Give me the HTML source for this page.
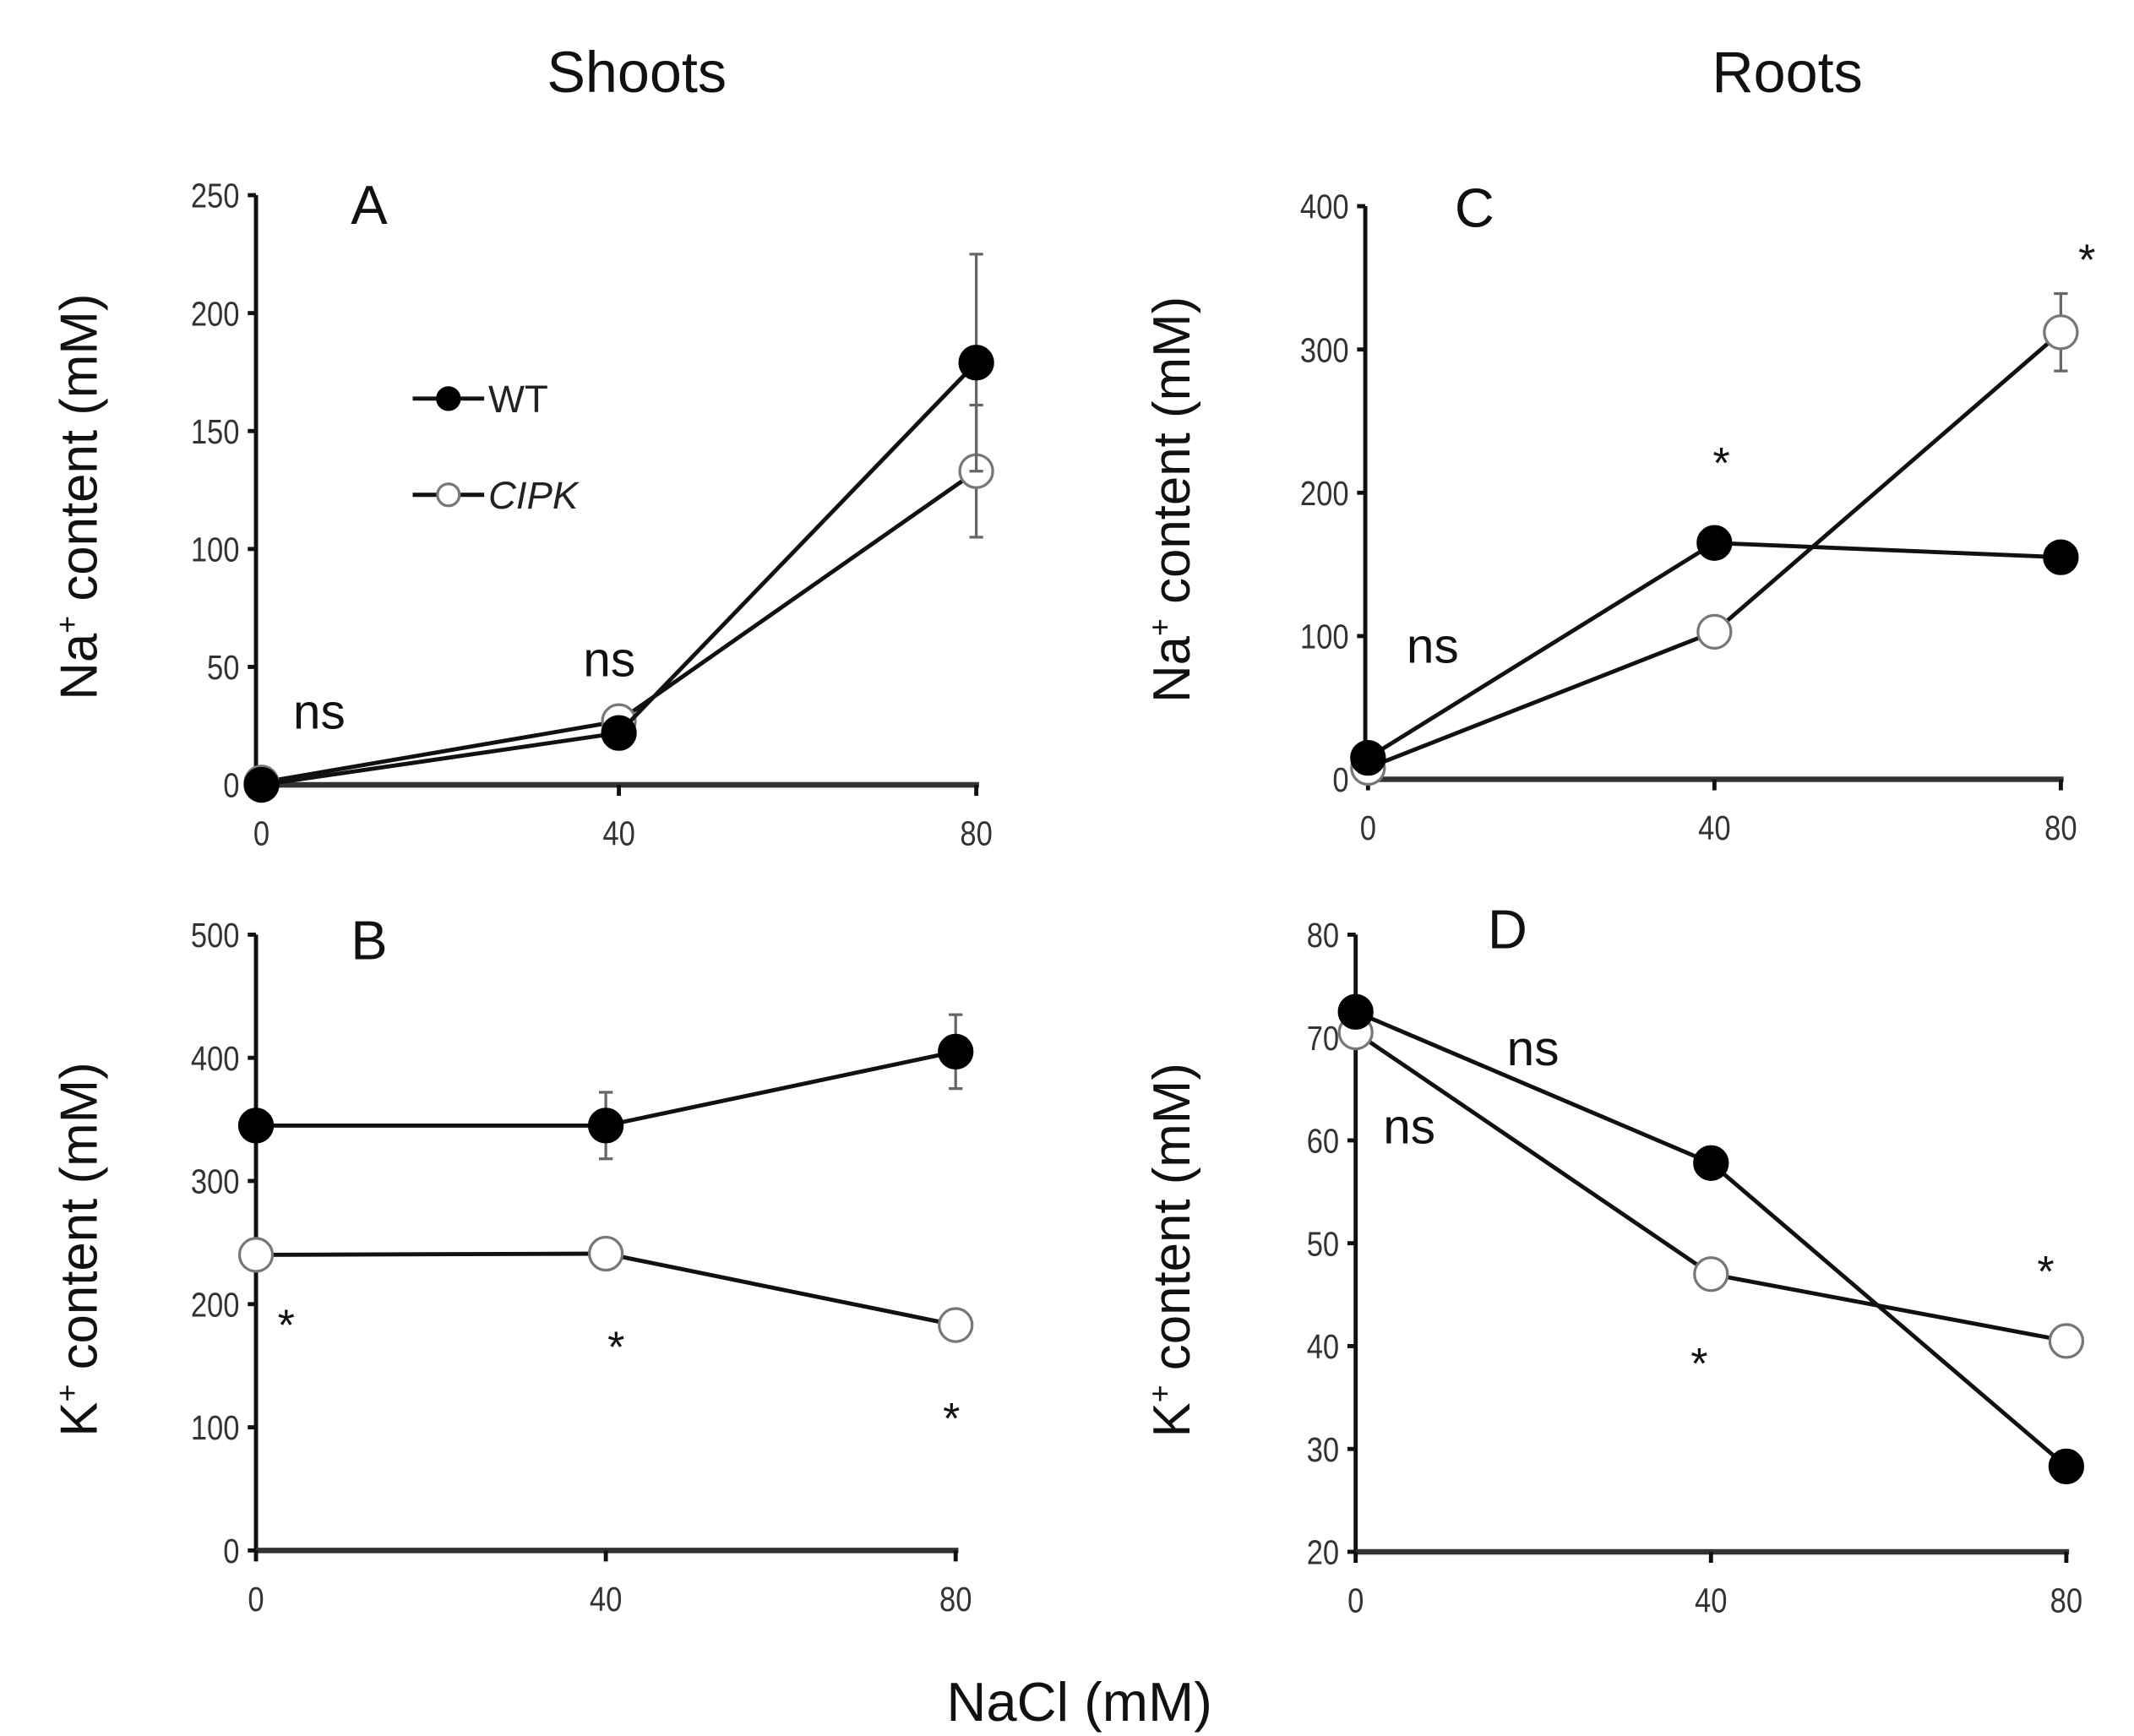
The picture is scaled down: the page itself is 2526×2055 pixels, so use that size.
<!DOCTYPE html>
<html><head><meta charset="utf-8"><style>
html,body{margin:0;padding:0;background:#fff;}
svg{display:block;}
text{font-family:"Liberation Sans",sans-serif;}
</style></head><body>
<svg id="fig" width="2526" height="2055" viewBox="0 0 1552 1263" xmlns="http://www.w3.org/2000/svg">
<text x="463" y="67" font-size="42" text-anchor="middle" fill="#111">Shoots</text>
<text x="1300" y="67" font-size="42" text-anchor="middle" fill="#111">Roots</text>
<text x="785" y="1252" font-size="40" text-anchor="middle" fill="#111">NaCl (mM)</text>
<g id="panels"></g>
</svg>
<script>
const xCats = [0, 40, 80];
const aWT = [0, 22, 179];
const aCIPK = [1, 27, 133];
const aWTerr = [0, 0, 46];
const aCIPKerr = [0, 0, 28];
const cWT = [15, 165, 155];
const cCIPK = [8, 103, 312];
const cWTerr = [0, 0, 0];
const cCIPKerr = [0, 0, 27];
const bWT = [345, 345, 405];
const bCIPK = [240, 241, 183];
const bWTerr = [0, 27, 30];
const bCIPKerr = [0, 0, 0];
const dWT = [72.5, 57.8, 28.3];
const dCIPK = [70.5, 47, 40.5];
const dWTerr = [0, 0, 0];
const dCIPKerr = [0, 0, 0];
const aTicks = [0, 50, 100, 150, 200, 250];
const cTicks = [0, 100, 200, 300, 400];
const bTicks = [0, 100, 200, 300, 400, 500];
const dTicks = [20, 30, 40, 50, 60, 70, 80];

const NS = "http://www.w3.org/2000/svg";
const root = document.getElementById('panels');
function mk(tag, attrs, parent, txt) {
  const e = document.createElementNS(NS, tag);
  for (const k in attrs) e.setAttribute(k, attrs[k]);
  if (txt !== undefined) e.textContent = txt;
  parent.appendChild(e);
  return e;
}
function panel(cfg) {
  const g = mk('g', {}, root);
  
  
  const ymin = cfg.ticks[0], ymax = cfg.ticks[cfg.ticks.length - 1];
  const sy = v => cfg.y0 + (v - ymin) / (ymax - ymin) * (cfg.yTop - cfg.y0);
  const sx = v => cfg.x0 + v / 80 * (cfg.x80 - cfg.x0);
  // axes
  const ya = mk('line', {x1: cfg.ax, y1: cfg.yTop, x2: cfg.ax, y2: cfg.y0 + 2, stroke: '#111', 'stroke-width': 3}, g);
  
  
  const xa = mk('line', {x1: cfg.ax, y1: cfg.y0, x2: sx(80) + 2, y2: cfg.y0, stroke: '#333', 'stroke-width': 4}, g);
  
  
  cfg.ticks.forEach(t => {
    mk('line', {x1: cfg.ax - 6, y1: sy(t), x2: cfg.ax, y2: sy(t), stroke: '#111', 'stroke-width': 3}, g);
    const tl = mk('text', {x: cfg.ax - 12, y: sy(t) + 9, 'font-size': 25, 'text-anchor': 'end', fill: '#333', transform: `translate(${cfg.ax - 12} 0) scale(0.85 1) translate(${-(cfg.ax - 12)} 0)`}, g, String(t));
    
    
  });
  xCats.forEach(c => {
    mk('line', {x1: sx(c), y1: cfg.y0, x2: sx(c), y2: cfg.y0 + 8, stroke: '#111', 'stroke-width': 3}, g);
    const tl = mk('text', {x: sx(c), y: cfg.y0 + 44, 'font-size': 25, 'text-anchor': 'middle', fill: '#333', transform: `translate(${sx(c)} 0) scale(0.85 1) translate(${-sx(c)} 0)`}, g, String(c));
    
    
  });
  // y title
  const yt = mk('text', {x: 0, y: 0, 'font-size': 38, 'text-anchor': 'middle', fill: '#111', transform: `translate(${cfg.titleX} ${(cfg.yTop + cfg.y0) / 2 + 5}) rotate(-90)`}, g);
  
  
  mk('tspan', {}, yt, cfg.ion);
  mk('tspan', {'font-size': 22, dy: -14}, yt, '+');
  mk('tspan', {dy: 14}, yt, ' content (mM)');
  // letter
  const lt = mk('text', {x: cfg.letter[0], y: cfg.letter[1], 'font-size': 40, fill: '#111'}, g, cfg.id);
  
  
  // series
  [[cfg.cipk, cfg.cipkErr, '#fff', 'cipk'], [cfg.wt, cfg.wtErr, '#000', 'wt']].forEach(([vals, errs, fill, nm]) => {
    const pts = vals.map((v, i) => sx(xCats[i]) + ',' + sy(v)).join(' ');
    const pl = mk('polyline', {points: pts, fill: 'none', stroke: '#111', 'stroke-width': 3}, g);
    
    
    vals.forEach((v, i) => {
      if (errs[i] > 0) {
        const x = sx(xCats[i]);
        const eb = mk('path', {d: `M${x},${sy(v + errs[i])}V${sy(v - errs[i])}M${x - 5},${sy(v + errs[i])}H${x + 5}M${x - 5},${sy(v - errs[i])}H${x + 5}`, stroke: '#666', 'stroke-width': 2, fill: 'none'}, g);
        
        
      }
    });
    vals.forEach((v, i) => {
      const c = mk('circle', {cx: sx(xCats[i]), cy: sy(v), r: 12, fill: fill, stroke: fill === '#fff' ? '#777' : '#000', 'stroke-width': 2}, g);
      
      
    });
  });
  cfg.notes.forEach(n => {
    const t = mk('text', {x: n[0], y: n[1], 'font-size': n[2] === '*' ? 32 : 36, 'text-anchor': 'middle', fill: '#111'}, g, n[2]);
    
    
  });
}
panel({id: 'A', ion: 'Na', ticks: aTicks, ax: 186, x0: 190, x80: 710, y0: 571, yTop: 142, titleX: 70, letter: [255, 163], wt: aWT, cipk: aCIPK, wtErr: aWTerr, cipkErr: aCIPKerr, notes: [[232, 530, 'ns'], [443, 492, 'ns']]});
panel({id: 'C', ion: 'Na', ticks: cTicks, ax: 993, x0: 995, x80: 1499, y0: 567, yTop: 150, titleX: 865, letter: [1058, 165], wt: cWT, cipk: cCIPK, wtErr: cWTerr, cipkErr: cCIPKerr, notes: [[1042, 482, 'ns'], [1252, 348, '*'], [1518, 200, '*']]});
panel({id: 'B', ion: 'K', ticks: bTicks, ax: 186, x0: 186, x80: 695, y0: 1128, yTop: 680, titleX: 70, letter: [255, 698], wt: bWT, cipk: bCIPK, wtErr: bWTerr, cipkErr: bCIPKerr, notes: [[208, 975, '*'], [448, 991, '*'], [692, 1043, '*']]});
panel({id: 'D', ion: 'K', ticks: dTicks, ax: 986, x0: 986, x80: 1503, y0: 1129, yTop: 680, titleX: 865, letter: [1082, 690], wt: dWT, cipk: dCIPK, wtErr: dWTerr, cipkErr: dCIPKerr, notes: [[1115, 775, 'ns'], [1025, 832, 'ns'], [1236, 1003, '*'], [1488, 936, '*']]});

// legend (panel A)
const lg = mk('g', {}, root);


[['WT', 290, '#000', 'normal'], ['CIPK', 360, '#fff', 'italic']].forEach(([lab, y, fill, st]) => {
  const e = mk('g', {}, lg);
  
  
  mk('line', {x1: 300, y1: y, x2: 352, y2: y, stroke: '#111', 'stroke-width': 3}, e);
  mk('circle', {cx: 326, cy: y, r: 8, fill: fill, stroke: fill === '#fff' ? '#777' : '#000', 'stroke-width': 2}, e);
  mk('text', {x: 355, y: y + 10, 'font-size': 28, 'font-style': st, fill: '#222'}, e, lab);
});
</script>
</body></html>
